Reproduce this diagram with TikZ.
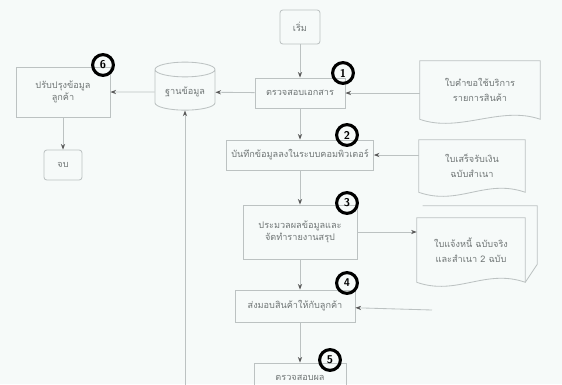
\documentclass[tikz,border=0pt]{standalone}
\usepackage{fontspec}
\newfontfamily\thaifont[Script=Thai]{Loma}
\usetikzlibrary{shapes.geometric, arrows.meta, positioning}

\definecolor{paper}{RGB}{246,250,249}
\definecolor{linegray}{RGB}{188,194,194}
\definecolor{textgray}{RGB}{112,118,118}

\tikzstyle{startstop} = [rectangle, rounded corners=2pt,
minimum width=1cm,
minimum height=0.85cm,
text centered,
draw=linegray,
line width=0.6pt,
text=textgray]
\tikzstyle{process} = [rectangle,
minimum width=2.5cm,
minimum height=0.75cm,
align=center,
draw=linegray,
line width=0.6pt,
text=textgray]
\tikzstyle{doc} = [rectangle,
minimum width=2.8cm,
minimum height=1.4cm,
align=center,
text=textgray]
\tikzstyle{storage} = [cylinder,
shape border rotate=90,
aspect=0.3,
minimum width=1.5cm,
minimum height=1.2cm,
draw=linegray,
line width=0.6pt,
text=textgray]
\tikzstyle{stepnum} = [circle,
draw=black,
line width=2.2pt,
inner sep=0pt,
minimum size=0.52cm,
font=\sffamily\bfseries\footnotesize]
\tikzstyle{arrow} = [linegray, line width=0.6pt, -{Stealth[length=4pt, width=3pt, color=black!65]}]
\tikzstyle{outline} = [linegray, line width=0.6pt]

\begin{document}
\begin{tikzpicture}[x=0.025cm, y=-0.025cm, every node/.style={font=\fontsize{6.5}{9}\selectfont\thaifont}]
\fill[paper] (0,0) rectangle (562,384);
\useasboundingbox (0,0) rectangle (562,384);

% Nodes
\node (start) [startstop] at (300,27) {เริ่ม};
\node (check) [process, minimum width=2.25cm] at (300,93) {ตรวจสอบเอกสาร};
\node (record) [process, minimum width=2.8cm] at (300,155) {บันทึกข้อมูลลงในระบบคอมพิวเตอร์};
\node (report) [process, minimum width=2.85cm, minimum height=1.35cm] at (300,232) {ประมวลผลข้อมูลและ\\จัดทำรายงานสรุป};
\node (deliver) [process, minimum width=3cm, minimum height=0.8cm] at (295,306) {ส่งมอบสินค้าให้กับลูกค้า};
\node (result) [process, minimum width=2.3cm] at (300,378) {ตรวจสอบผล};

\node (store) [storage] at (185,92) {ฐานข้อมูล};
\node (update) [process, minimum width=2.35cm, minimum height=1.25cm] at (63,92) {ปรับปรุงข้อมูล\\ลูกค้า};
\node (stop) [startstop, minimum width=0.95cm, minimum height=0.75cm] at (63,165) {จบ};

\node (request) [doc, minimum width=3cm, minimum height=1.45cm] at (480,90) {ใบคำขอใช้บริการ\\[2pt]รายการสินค้า};
\node (receipt) [doc, minimum width=2.65cm, minimum height=1.3cm] at (472,166) {ใบเสร็จรับเงิน\\[2pt]ฉบับสำเนา};
\node (invoice) [doc, minimum width=2.7cm, minimum height=1.6cm] at (471,250) {ใบแจ้งหนี้ ฉบับจริง\\[2pt]และสำเนา 2 ฉบับ};

\coordinate (feed) at (185,390);
\coordinate (back) at (432,310);

% Document outlines
\foreach \d in {request, receipt, invoice}
  \draw[outline] (\d.south west) -- (\d.north west) -- (\d.north east) -- (\d.south east)
    .. controls +(-40,-14) and +(40,14) .. (\d.south west);
\draw[outline] ([shift={(6,-12)}]invoice.north west) -- ([shift={(12,-12)}]invoice.north east) -- ([shift={(12,-18)}]invoice.south east) -- (invoice.south east);

% Step numbers
\node (n1) [stepnum] at (343,73) {1};
\node (n2) [stepnum] at (347,135) {2};
\node (n3) [stepnum] at (347,203) {3};
\node (n4) [stepnum] at (347,283) {4};
\node (n5) [stepnum] at (330,360) {5};
\node (n6) [stepnum] at (103,65) {6};

% Connections
\draw [arrow] (start) -- (check);
\draw [arrow] (check) -- (record);
\draw [arrow] (record) -- (report);
\draw [arrow] (report) -- (report |- deliver.north);
\draw [arrow] (report |- deliver.south) -- (report |- result.north);

\draw [arrow] (request.west |- check) -- (check);
\draw [arrow] (check) -- (store);
\draw [arrow] (store) -- (update);
\draw [arrow] (update) -- (stop);
\draw [arrow] (feed) -- (store);

\draw [arrow] (receipt.west |- record) -- (record);
\draw [arrow] (report.east) -- (report.east -| invoice.west);
\draw [arrow] (back) -- (deliver);

\end{tikzpicture}
\end{document}
